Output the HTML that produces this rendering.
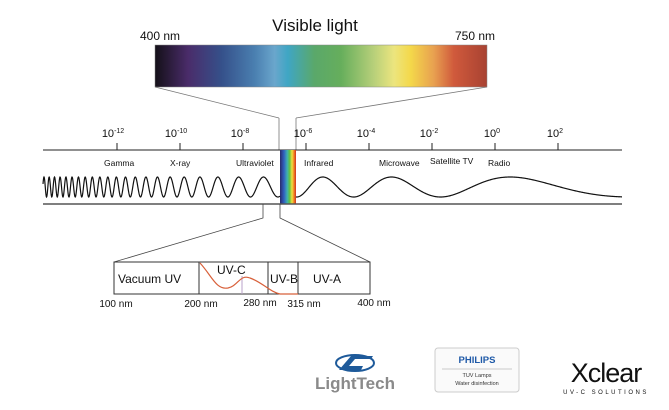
<!DOCTYPE html>
<html><head><meta charset="utf-8"><style>
body{margin:0;background:#fff;width:669px;height:405px;overflow:hidden;font-family:"Liberation Sans",Arial,sans-serif;}
</style></head><body>
<svg width="669" height="405" viewBox="0 0 669 405" xmlns="http://www.w3.org/2000/svg" font-family="Liberation Sans, Arial, sans-serif">
<defs>
<linearGradient id="vis" x1="0" x2="1" y1="0" y2="0">
<stop offset="0" stop-color="#141018"/>
<stop offset="0.1" stop-color="#4a2c6a"/>
<stop offset="0.2" stop-color="#35508a"/>
<stop offset="0.3" stop-color="#4a7fb0"/>
<stop offset="0.36" stop-color="#6aa6cc"/>
<stop offset="0.4" stop-color="#3fa6c4"/>
<stop offset="0.48" stop-color="#5aa86a"/>
<stop offset="0.56" stop-color="#66ae5c"/>
<stop offset="0.66" stop-color="#b8d07a"/>
<stop offset="0.72" stop-color="#ece57e"/>
<stop offset="0.77" stop-color="#f4d84a"/>
<stop offset="0.84" stop-color="#e8a050"/>
<stop offset="0.9" stop-color="#d05a3c"/>
<stop offset="1" stop-color="#a84232"/>
</linearGradient>
<linearGradient id="strip" x1="0" x2="1">
<stop offset="0" stop-color="#2a2a6a"/><stop offset="0.25" stop-color="#3060c0"/>
<stop offset="0.45" stop-color="#40b0b0"/><stop offset="0.6" stop-color="#60c040"/>
<stop offset="0.75" stop-color="#f0e040"/><stop offset="0.88" stop-color="#f08020"/>
<stop offset="1" stop-color="#d03020"/>
</linearGradient>
</defs>
<text x="315" y="31" font-size="17" text-anchor="middle" fill="#111">Visible light</text>
<text x="160" y="40" font-size="12" text-anchor="middle" fill="#111">400 nm</text>
<text x="475" y="40" font-size="12" text-anchor="middle" fill="#111">750 nm</text>
<rect x="155" y="45" width="332" height="42" fill="url(#vis)" stroke="#888" stroke-width="0.5"/>
<g stroke="#777" stroke-width="0.8" fill="none">
<line x1="155" y1="87" x2="279" y2="118"/><line x1="487" y1="87" x2="296" y2="118"/>
<line x1="279" y1="118" x2="279" y2="150"/><line x1="296" y1="118" x2="296" y2="150"/>
</g>
<g font-size="11" fill="#111" text-anchor="middle">
<text x="113" y="137">10<tspan font-size="7" dy="-4">-12</tspan></text>
<text x="176" y="137">10<tspan font-size="7" dy="-4">-10</tspan></text>
<text x="240" y="137">10<tspan font-size="7" dy="-4">-8</tspan></text>
<text x="303" y="137">10<tspan font-size="7" dy="-4">-6</tspan></text>
<text x="366" y="137">10<tspan font-size="7" dy="-4">-4</tspan></text>
<text x="429" y="137">10<tspan font-size="7" dy="-4">-2</tspan></text>
<text x="492" y="137">10<tspan font-size="7" dy="-4">0</tspan></text>
<text x="555" y="137">10<tspan font-size="7" dy="-4">2</tspan></text>
</g>
<g stroke="#222" stroke-width="1">
<line x1="43" y1="150" x2="622" y2="150"/>
<line x1="117" y1="143" x2="117" y2="150"/><line x1="180" y1="143" x2="180" y2="150"/>
<line x1="243" y1="143" x2="243" y2="150"/><line x1="306" y1="143" x2="306" y2="150"/>
<line x1="369" y1="143" x2="369" y2="150"/><line x1="432" y1="143" x2="432" y2="150"/>
<line x1="495" y1="143" x2="495" y2="150"/><line x1="558" y1="143" x2="558" y2="150"/>
</g>
<g font-size="8.5" fill="#111">
<text x="104" y="166">Gamma</text><text x="170" y="166">X-ray</text>
<text x="236" y="166">Ultraviolet</text><text x="304" y="166">Infrared</text>
<text x="379" y="166">Microwave</text><text x="430" y="164">Satellite TV</text>
<text x="488" y="166">Radio</text>
</g>
<rect x="280" y="150" width="16" height="54" fill="url(#strip)"/>
<path id="wave" fill="none" stroke="#111" stroke-width="1.2" d=""/>
<line x1="43" y1="204" x2="622" y2="204" stroke="#555" stroke-width="1.5"/>
<g stroke="#444" stroke-width="0.8" fill="none">
<polyline points="263,204 263,218 114,262"/>
<polyline points="280,204 280,218 370,262"/>
</g>
<rect x="114" y="262" width="256" height="32" fill="#fff" stroke="#333" stroke-width="1"/>
<g stroke="#333"><line x1="199" y1="262" x2="199" y2="294"/><line x1="268" y1="262" x2="268" y2="294"/><line x1="298" y1="262" x2="298" y2="294"/></g>
<line x1="242" y1="276" x2="242" y2="294" stroke="#b9a0c8" stroke-width="1"/>
<path d="M200,263 C212,276 216,290 228,288 C238,286 240,274 250,278 C262,282 270,292 280,294 L298,294" fill="none" stroke="#d8603a" stroke-width="1.2"/>
<g font-size="12" fill="#111">
<text x="118" y="283">Vacuum UV</text>
<text x="217" y="274">UV-C</text>
<text x="270" y="283">UV-B</text>
<text x="313" y="283">UV-A</text>
</g>
<g font-size="10" fill="#111" text-anchor="middle">
<text x="116" y="307">100 nm</text><text x="201" y="307">200 nm</text>
<text x="260" y="306">280 nm</text><text x="304" y="307">315 nm</text>
<text x="374" y="306">400 nm</text>
</g>
<!-- LightTech -->
<g transform="translate(335,350)">
<ellipse cx="20" cy="13" rx="19" ry="8" fill="none" stroke="#1e5a9a" stroke-width="2"/>
<path d="M4,20 L16,6 L38,6 L36,9 L20,9 L14,16 L28,16 L26,20 Z" fill="#1e5a9a"/>
</g>
<text x="355" y="389" font-size="17" font-weight="bold" fill="#8a8a8a" text-anchor="middle">LightTech</text>
<!-- Philips -->
<rect x="435" y="348" width="84" height="44" rx="3" fill="#fafafa" stroke="#ccc" stroke-width="1"/>
<text x="477" y="363" font-size="9.5" font-weight="bold" fill="#1f5aa8" text-anchor="middle">PHILIPS</text>
<line x1="442" y1="369" x2="512" y2="369" stroke="#999" stroke-width="0.6"/>
<text x="477" y="377" font-size="5.5" fill="#333" text-anchor="middle">TUV Lamps</text>
<text x="477" y="385" font-size="5.5" fill="#333" text-anchor="middle">Water disinfection</text>
<!-- Xclear -->
<text x="606" y="382" font-size="27" fill="#111" text-anchor="middle" letter-spacing="-1">Xclear</text>
<text x="606" y="394" font-size="6" fill="#111" text-anchor="middle" letter-spacing="2.5">UV-C SOLUTIONS</text>
</svg>
<script>
(function(){
var d="",ph=0,cy=187,A=10;
for(var x=43;x<=280;x+=0.25){var P=5*Math.exp(Math.log(6.2)*(x-43)/237);ph+=2*Math.PI/P*0.25;d+=(x==43?"M":"L")+x.toFixed(2)+","+(cy-A*Math.sin(ph)).toFixed(2);}
ph=-Math.PI*0.55;
for(var x=296;x<=622;x+=0.5){var P=48*Math.exp(Math.log(7)*(x-296)/326);ph+=2*Math.PI/P*0.5;d+=(x==296?"M":"L")+x.toFixed(2)+","+(cy-A*Math.sin(ph)).toFixed(2);}
document.getElementById("wave").setAttribute("d",d);
})();
</script>
</body></html>
